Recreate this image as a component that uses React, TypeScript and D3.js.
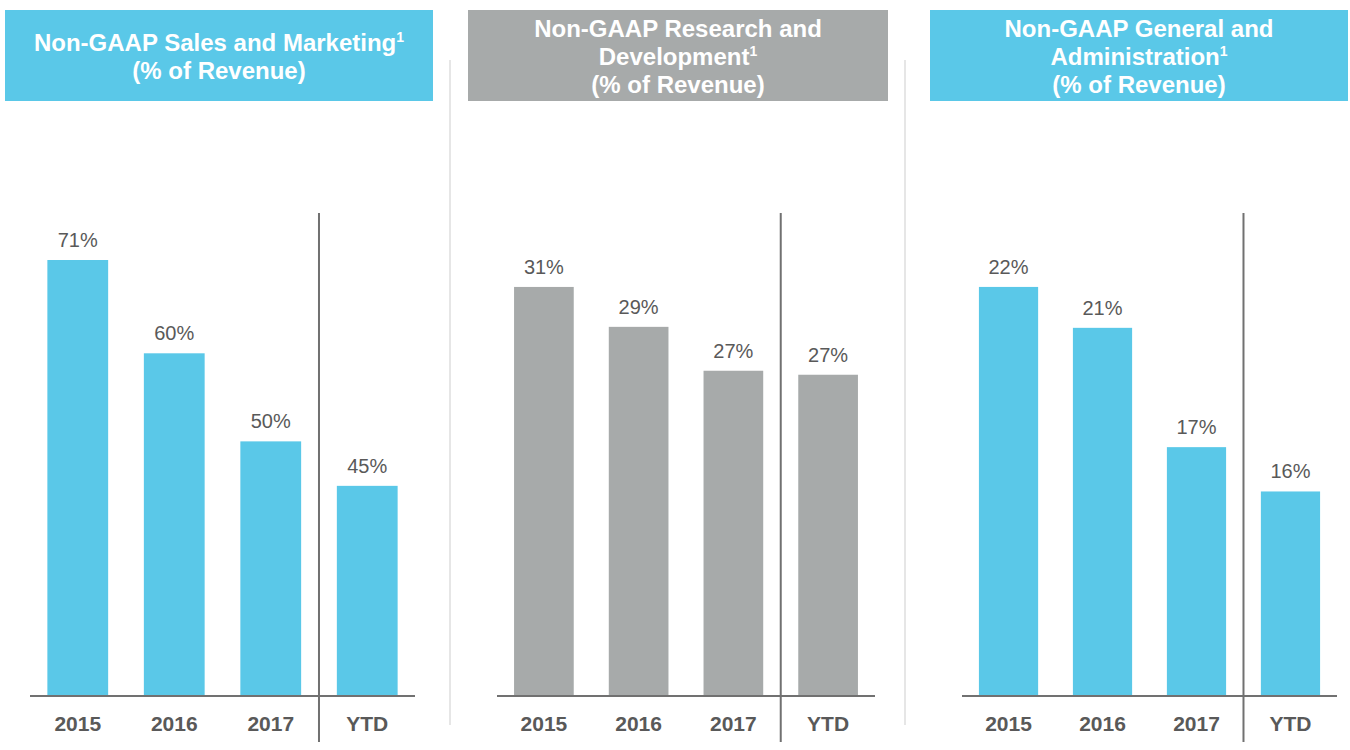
import React, { useEffect } from "react";
import * as d3 from "d3";

const categories = ["2015", "2016", "2017", "YTD"];
const salesMarketing = [71.0, 60.3, 50.2, 45.1];
const researchDevelopment = [31.0, 29.0, 26.8, 26.6];
const generalAdmin = [22.0, 20.8, 17.3, 16.0];

const titleSales = ["Non-GAAP Sales and Marketing|1", "(% of Revenue)"];
const titleRD = ["Non-GAAP Research and", "Development|1", "(% of Revenue)"];
const titleGA = ["Non-GAAP General and", "Administration|1", "(% of Revenue)"];

const BLUE = "#5AC8E8";
const GRAY = "#A7AAAA";
const TEXT = "#595959";
const AXIS = "#717171";
const FONT = "'Liberation Sans', Arial, sans-serif";

const W = 1350;
const H = 750;
const BASE_Y = 696;
const TOP_Y = 260;

type PanelDef = {
  values: number[];
  title: string[];
  color: string;
  domain: [number, number];
  header: [number, number];
  axis: [number, number];
};

const panels: PanelDef[] = [
  { values: salesMarketing, title: titleSales, color: BLUE, domain: [21, 71], header: [5, 433], axis: [30, 415] },
  { values: researchDevelopment, title: titleRD, color: GRAY, domain: [10.5, 32.35], header: [468, 888], axis: [497, 875] },
  { values: generalAdmin, title: titleGA, color: BLUE, domain: [10, 22.79], header: [930, 1348], axis: [962, 1337] },
];

const separators = [450, 905];

function Panel({ p }: { p: PanelDef }) {
  const x = d3.scaleBand<string>().domain(categories).range(p.axis).paddingInner(0.37).paddingOuter(0.18);
  const y = d3.scaleLinear().domain(p.domain).range([BASE_Y, TOP_Y]);
  const n = p.title.length;
  const cx = (p.header[0] + p.header[1]) / 2;
  const firstBase = 55.5 - (n - 1) * 14 + 9;
  const lastCat = categories[categories.length - 1];
  const prevCat = categories[categories.length - 2];
  const divX = ((x(prevCat) as number) + x.bandwidth() + (x(lastCat) as number)) / 2;
  return (
    <g>
      <rect x={p.header[0]} y={10} width={p.header[1] - p.header[0]} height={91} fill={p.color} />
      <text textAnchor="middle" fontFamily={FONT} fontWeight="bold" fontSize={24} fill="#ffffff">
        {p.title.map((line, i) => {
          const [main, sup] = line.split("|");
          return (
            <tspan key={i} x={cx} y={firstBase + i * 28}>
              {main}
              {sup ? (
                <tspan fontSize={14} dy={-9}>
                  {sup}
                </tspan>
              ) : null}
            </tspan>
          );
        })}
      </text>
      {p.values.map((v, i) => {
        const c = categories[i];
        const bx = x(c) as number;
        return (
          <g key={c}>
            <rect x={bx} y={y(v)} width={x.bandwidth()} height={BASE_Y - y(v)} fill={p.color} />
            <text
              x={bx + x.bandwidth() / 2}
              y={y(v) - 13}
              textAnchor="middle"
              fontFamily={FONT}
              fontSize={20}
              fill={TEXT}
            >
              {Math.round(v) + "%"}
            </text>
            <text
              x={bx + x.bandwidth() / 2}
              y={731}
              textAnchor="middle"
              fontFamily={FONT}
              fontWeight="bold"
              fontSize={21}
              fill={TEXT}
            >
              {c}
            </text>
          </g>
        );
      })}
      <line x1={p.axis[0]} x2={p.axis[1]} y1={BASE_Y} y2={BASE_Y} stroke={AXIS} strokeWidth={2} />
      <line x1={divX} x2={divX} y1={213} y2={742} stroke={AXIS} strokeWidth={2} />
    </g>
  );
}

export default function App() {
  useEffect(() => {
    document.body.style.margin = "0";
  }, []);
  return (
    <svg width={W} height={H} style={{ display: "block", background: "#ffffff" }}>
      {separators.map((sx) => (
        <line key={sx} x1={sx} x2={sx} y1={60} y2={725} stroke="#E6E6E6" strokeWidth={2} />
      ))}
      {panels.map((p, i) => (
        <Panel key={i} p={p} />
      ))}
    </svg>
  );
}
